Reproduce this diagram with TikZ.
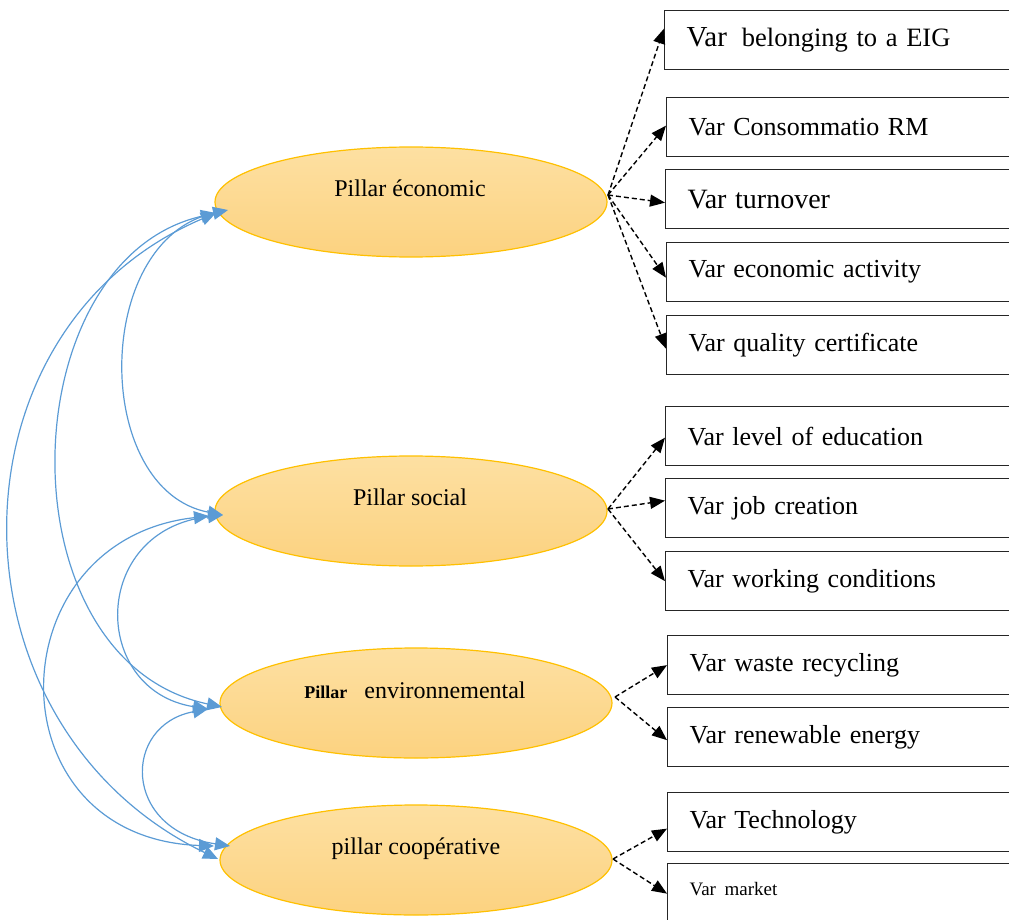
\documentclass[tikz,border=0pt]{standalone}
\usepackage{fontspec}
\setmainfont{Liberation Serif}
\usetikzlibrary{shapes.geometric,arrows.meta}
\definecolor{linkblue}{RGB}{91,155,213}
\definecolor{goldline}{RGB}{255,192,0}
\definecolor{filltop}{RGB}{253,224,162}
\definecolor{fillbot}{RGB}{252,210,128}
\begin{document}
\begin{tikzpicture}[x=1pt,y=-1pt,
  pillar/.style={ellipse, draw=goldline, line width=1.2pt, top color=filltop, bottom color=fillbot, minimum width=392pt, minimum height=110pt, inner sep=0pt},
  ptext/.style={font=\fontsize{24}{28}\selectfont, inner sep=0pt},
  varbox/.style={draw=black!85, line width=1.3pt, anchor=north west, minimum height=59pt, text width=340pt, inner xsep=22pt, inner ysep=0pt, align=left, font=\fontsize{26}{30}\selectfont},
  dasharrow/.style={dash pattern=on 5pt off 3pt, line width=1.4pt, -{Triangle[length=15pt,width=12pt]}},
  link/.style={linkblue, line width=1.2pt, {Triangle[length=15pt,width=13pt]}-{Triangle[length=15pt,width=13pt]}}
]
\clip (0,0) rectangle (1009,920);

% pillars
\node[pillar] (e1) at (411,202) {};
\node[ptext] (t1) at (410,188) {Pillar économic};
\node[pillar] (e2) at (411,511) {};
\node[ptext] (t2) at (410,497) {Pillar social};
\node[pillar] (e3) at (416,703) {};
\node[ptext] (t3) at (415,690) {{\fontsize{18}{20}\selectfont\bfseries Pillar}\hspace{17pt}environnemental};
\node[pillar] (e4) at (416,860) {};
\node[ptext] (t4) at (416,849) {pillar coopérative};

% variable boxes
\node[varbox] (b1) at (664,10) {\fontsize{29}{32}\selectfont Var\hspace{15pt}\fontsize{26.5}{30}\selectfont belonging to a EIG};
\node[varbox] (b2) at (666,97) {Var Consommatio RM};
\node[varbox] (b3) at (665,169) {\fontsize{28}{32}\selectfont Var turnover};
\node[varbox] (b4) at (666,242) {Var economic activity};
\node[varbox] (b5) at (666,315) {Var quality certificate};
\node[varbox] (b6) at (665,406) {Var level of education};
\node[varbox] (b7) at (665,478) {Var job creation};
\node[varbox] (b8) at (665,551) {Var working conditions};
\node[varbox] (b9) at (667,635) {Var waste recycling};
\node[varbox] (b10) at (667,707) {Var renewable energy};
\node[varbox] (b11) at (667,792) {Var Technology};
\node[varbox, minimum height=60pt] (b12) at (667,863) {\fontsize{19}{22}\selectfont\raisebox{9pt}{Var market}};

% sources of dashed arrows
\coordinate (s1) at (608,195);
\coordinate (s2) at (608,509);
\coordinate (s3) at (615,697);
\coordinate (s4) at (613,859);

\draw[dasharrow] (s1) -- ([yshift=11.5pt]b1.west);
\draw[dasharrow] (s1) -- ([yshift=1.5pt]b2.west);
\draw[dasharrow] (s1) -- ([yshift=-3.5pt]b3.west);
\draw[dasharrow] (s1) -- ([yshift=-5.5pt]b4.west);
\draw[dasharrow] (s1) -- ([yshift=-3.5pt]b5.west);
\draw[dasharrow] (s2) -- ([yshift=-1.5pt]b6.west);
\draw[dasharrow] (s2) -- ([yshift=7.5pt]b7.west);
\draw[dasharrow] (s2) -- (b8.west);
\draw[dasharrow] (s3) -- (b9.west);
\draw[dasharrow] (s3) -- ([yshift=-3pt]b10.west);
\draw[dasharrow] (s4) -- ([yshift=-6.5pt]b11.west);
\draw[dasharrow] (s4) -- (b12.west);

% ends of the curved links
\coordinate (e1p) at (228,210);
\coordinate (e1q) at (216,213);
\coordinate (e2p) at (223,515);
\coordinate (e2q) at (209,516);
\coordinate (e3p) at (222,707);
\coordinate (e3q) at (208,709);
\coordinate (e4p) at (230,846);
\coordinate (e4q) at (218,859);
\coordinate (e4r) at (214,846);

\draw[link] (e1p) .. controls (92,240) and (92,490) .. (e2p);
\draw[link] (e1q) .. controls (10,260) and (0,660) .. (e3p);
\draw[link] (e1q) .. controls (-60,330) and (-58,726) .. (e4q);
\draw[link] (e2q) .. controls (-5,540) and (-10,838) .. (e4r);
\draw[link] (e2p) .. controls (90,530) and (90,690) .. (e3q);
\draw[link] (e3q) .. controls (122,725) and (122,830) .. (e4p);
\end{tikzpicture}
\end{document}
